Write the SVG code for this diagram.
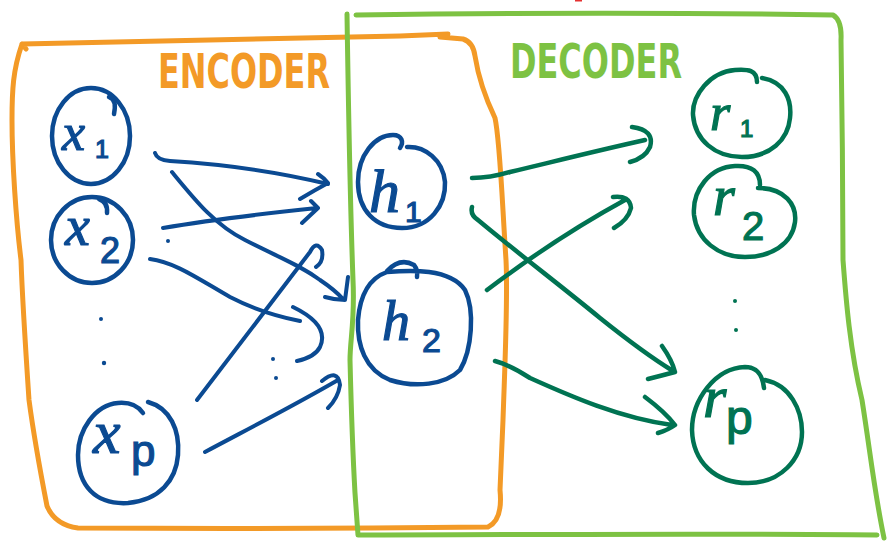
<svg xmlns="http://www.w3.org/2000/svg" width="887" height="542" viewBox="0 0 887 542">
<style>
.box{fill:none;stroke-width:5;stroke-linecap:round;stroke-linejoin:round}
.enc{stroke:#F39A27}
.dec{stroke:#7DC243}
.nb{fill:none;stroke:#0B4A92;stroke-width:4.5;stroke-linecap:round;stroke-linejoin:round}
.ng{fill:none;stroke:#007352;stroke-width:4.5;stroke-linecap:round;stroke-linejoin:round}
.ba{fill:none;stroke:#0B4A92;stroke-width:4;stroke-linecap:round;stroke-linejoin:round}
.ga{fill:none;stroke:#007352;stroke-width:4.5;stroke-linecap:round;stroke-linejoin:round}
.title{font-family:"DejaVu Sans",sans-serif;font-weight:bold;font-size:48px}
.lb{fill:#0B4A92;stroke:#0B4A92;stroke-width:1.2}
.lg{fill:#007352;stroke:#007352;stroke-width:1.2}
.v{font-family:"Liberation Serif",serif;font-style:italic}
.s{font-family:"Liberation Sans",sans-serif}
</style>
<g id="encoder-box">
<path class="box enc" d="M26,49 L22,44 C120,41 250,38 400,36 L448,34 M440,37 L463,39 Q473,42 475,56 C478,75 484,95 495,118 C500,140 502,200 506,260 C508,300 505,360 503,420 L500,490 Q503,520 488,527 C400,528 250,529 78,528 Q55,525 47,506 C40,470 33,430 29,400 C25,340 22,290 21,260 C16,220 12,160 12,120 C12,90 13,70 22,44"/>
<text class="title" x="158" y="88" fill="#F39A27" textLength="172" lengthAdjust="spacingAndGlyphs">ENCODER</text>
</g>
<g id="decoder-box">
<path class="box dec" d="M347,14 C348,80 350,200 353,280 C355,320 350,340 350,360 C351,400 352,440 355,493 L358,535 C500,535 700,533 877,535 M356,15 C500,13 650,12 833,15 Q842,20 841,40 C842,100 843,200 843,260 C846,300 850,350 862,400 C870,450 874,490 884,538"/>
<text class="title" x="510" y="78" fill="#7DC243" textLength="172" lengthAdjust="spacingAndGlyphs">DECODER</text>
</g>
<g id="connectors">
<path class="ba" d="M155,153 Q157,160 170,161 C220,164 270,170 328,184 M318,174 Q324,178 328,183 Q315,190 300,199"/>
<path class="ba" d="M172,172 C195,200 215,225 245,240 C280,258 300,265 320,280 Q335,290 344,300 M348,277 Q346,292 345,300 Q335,300 325,297"/>
<path class="ba" d="M163,228 C210,220 260,214 317,208 M311,201 L318,208 L302,223"/>
<path class="ba" d="M150,259 C175,262 200,280 230,297 C255,310 275,316 300,321 M293,307 Q330,325 320,347 Q315,357 297,361"/>
<path class="ba" d="M197,400 L310,252 Q316,240 322,250 Q324,262 316,267"/>
<path class="ba" d="M205,452 C250,428 295,405 338,380 M322,381 Q338,368 340,385 Q338,398 328,408"/>
<path class="ga" d="M472,178 Q490,178 510,172 C560,160 600,150 645,140 M632,127 Q655,130 650,147 Q645,158 630,162"/>
<path class="ga" d="M472,207 Q470,215 478,220 C520,255 560,285 600,318 C630,342 655,360 673,371 M662,346 Q672,360 675,372 Q660,376 648,379"/>
<path class="ga" d="M487,290 C520,265 570,230 625,200 M613,197 Q630,195 631,208 Q628,220 614,228"/>
<path class="ga" d="M495,361 Q510,365 530,378 C570,396 620,418 672,425 M645,397 Q665,412 675,425 Q668,430 658,433"/>
<g fill="#0B4A92">
<circle cx="101" cy="319" r="2"/><circle cx="104" cy="363" r="2.2"/>
<circle cx="273" cy="359" r="2"/><circle cx="276" cy="378" r="2"/>
<circle cx="168" cy="241" r="2"/>
</g>
<g fill="#007352"><circle cx="735" cy="301" r="2"/><circle cx="736" cy="330" r="2"/></g>
<path d="M575,0.5 L582,0.5" stroke="#E53030" stroke-width="2"/>
</g>
<g id="x1">
<ellipse class="nb" cx="91" cy="136" rx="39" ry="48"/>
<path class="nb" d="M109,97 Q117,99 114,114"/>
<text class="lb v" x="62" y="150" font-size="52">x</text><text class="lb s" x="95" y="158" font-size="25">1</text>
</g>
<g id="x2">
<ellipse class="nb" cx="92" cy="240" rx="41" ry="43"/>
<path class="nb" d="M99,199 Q108,202 107,213"/>
<text class="lb v" x="65" y="245" font-size="56">x</text><text class="lb s" x="100" y="263" font-size="36">2</text>
</g>
<g id="xp">
<path class="nb" d="M148,402 C170,408 180,430 178,455 C176,480 160,500 128,503 C95,505 78,485 78,455 C78,430 95,405 118,403 C130,402 138,406 143,413"/>
<text class="lb v" x="93" y="453" font-size="62">x</text><text class="lb s" x="131" y="466" font-size="44">p</text>
</g>
<g id="h1">
<path class="nb" d="M407,147 C425,146 443,160 445,182 C446,205 430,228 402,228 C375,228 358,210 358,182 C358,155 375,135 393,135 C402,135 404,142 400,148"/>
<text class="lb v" x="369" y="212" font-size="62">h</text><text class="lb s" x="405" y="222" font-size="30">1</text>
</g>
<g id="h2">
<path class="nb" d="M387,272 C410,270 450,268 465,290 C475,310 472,350 460,370 C445,385 415,388 390,380 C365,370 357,345 358,320 C360,295 370,278 387,272 M387,271 Q400,257 414,265 Q418,270 417,277"/>
<text class="lb v" x="382" y="340" font-size="56">h</text><text class="lb s" x="422" y="352" font-size="34">2</text>
</g>
<g id="r1">
<path class="ng" d="M762,78 C785,82 792,100 790,118 C788,140 770,157 742,157 C715,157 695,140 693,115 C692,95 710,72 735,70 C748,69 757,70 757,82"/>
<text class="lg v" x="710" y="130" font-size="52">r</text><text class="lg s" x="740" y="137" font-size="24">1</text>
</g>
<g id="r2">
<path class="ng" d="M758,188 C785,188 797,205 795,222 C792,245 770,257 745,257 C718,257 697,240 694,215 C692,190 710,167 735,166 C752,165 760,172 760,185"/>
<text class="lg v" x="713" y="215" font-size="56">r</text><text class="lg s" x="742" y="240" font-size="40">2</text>
</g>
<g id="rp">
<path class="ng" d="M765,380 C790,385 802,410 802,432 C802,460 780,483 748,483 C715,483 693,462 692,430 C692,400 715,368 745,367 C755,367 762,372 764,388"/>
<text class="lg v" x="703" y="417" font-size="60">r</text><text class="lg s" x="726" y="434" font-size="48">p</text>
</g>
</svg>
